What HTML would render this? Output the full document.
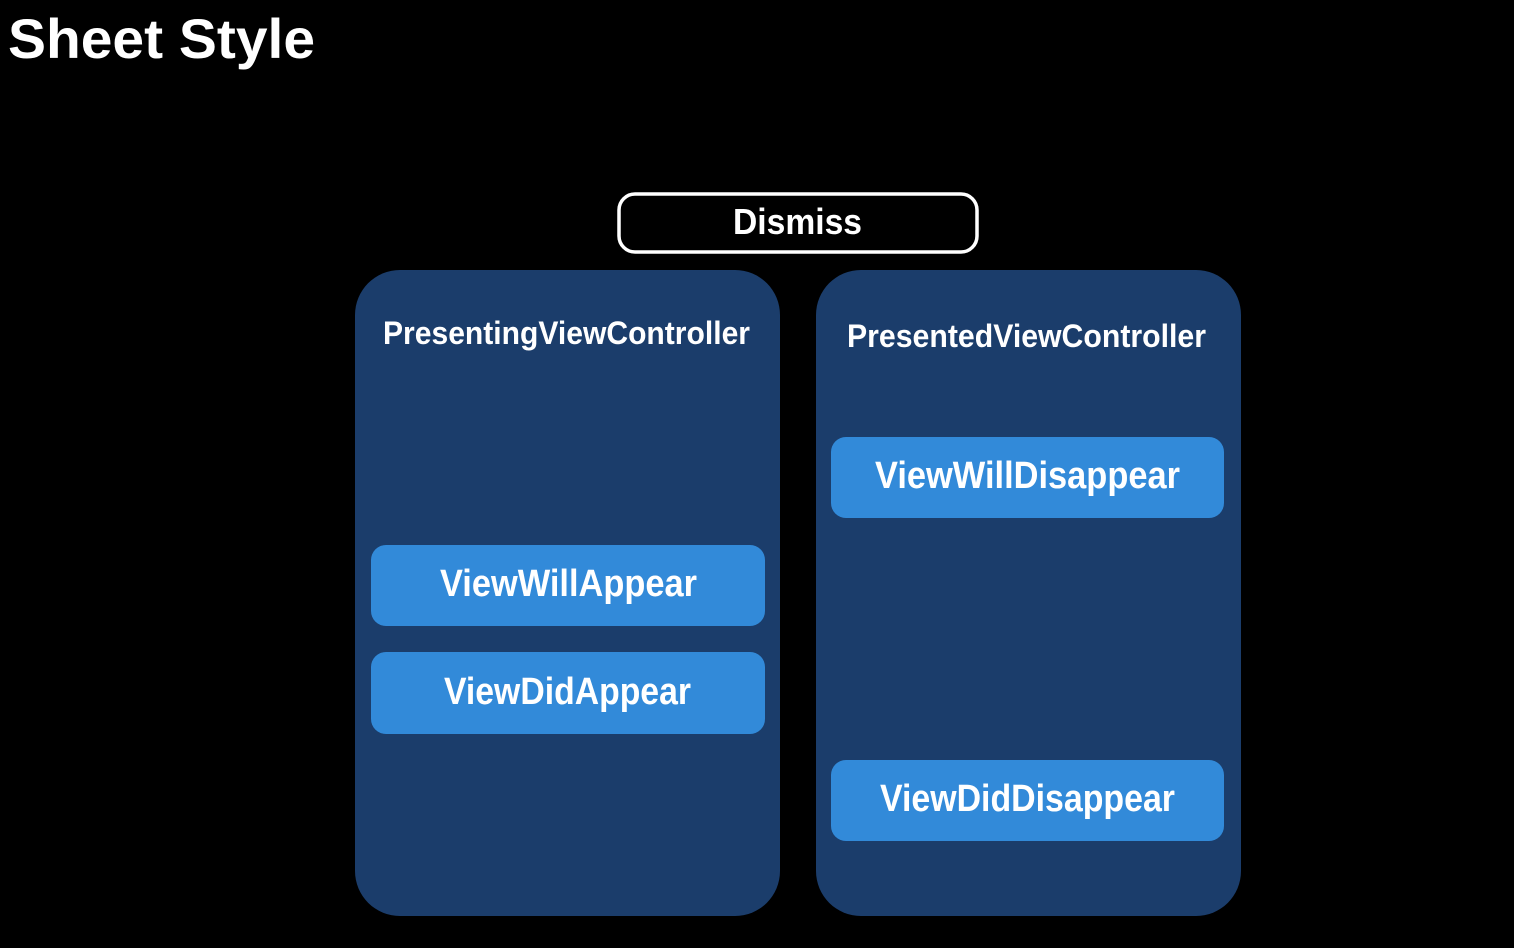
<!DOCTYPE html>
<html><head><style>html,body{margin:0;padding:0;background:#000;}svg{display:block}</style></head>
<body>
<svg width="1514" height="948" xmlns="http://www.w3.org/2000/svg" font-family="Liberation Sans, sans-serif" font-weight="bold" fill="#fff">
<rect width="1514" height="948" fill="#000"/>
<text x="8" y="58" font-size="56" textLength="307" lengthAdjust="spacingAndGlyphs">Sheet Style</text>
<rect x="619" y="194" width="358" height="58" rx="16" fill="#000" stroke="#fff" stroke-width="3.5"/>
<text x="733" y="234" font-size="36" textLength="129" lengthAdjust="spacingAndGlyphs">Dismiss</text>
<rect x="355" y="270" width="425" height="646" rx="45" fill="#1b3d6b"/>
<rect x="816" y="270" width="425" height="646" rx="45" fill="#1b3d6b"/>
<text x="383" y="344" font-size="32" textLength="367" lengthAdjust="spacingAndGlyphs">PresentingViewController</text>
<text x="847" y="347" font-size="32" textLength="359" lengthAdjust="spacingAndGlyphs">PresentedViewController</text>
<g fill="#328ad9">
<rect x="371" y="545" width="394" height="81" rx="15"/>
<rect x="371" y="652" width="394" height="82" rx="15"/>
<rect x="831" y="437" width="393" height="81" rx="15"/>
<rect x="831" y="760" width="393" height="81" rx="15"/>
</g>
<g font-size="38">
<text x="440" y="596" textLength="257" lengthAdjust="spacingAndGlyphs">ViewWillAppear</text>
<text x="444" y="704" textLength="247" lengthAdjust="spacingAndGlyphs">ViewDidAppear</text>
<text x="875" y="488" textLength="305" lengthAdjust="spacingAndGlyphs">ViewWillDisappear</text>
<text x="880" y="811" textLength="295" lengthAdjust="spacingAndGlyphs">ViewDidDisappear</text>
</g>
</svg>
</body></html>
